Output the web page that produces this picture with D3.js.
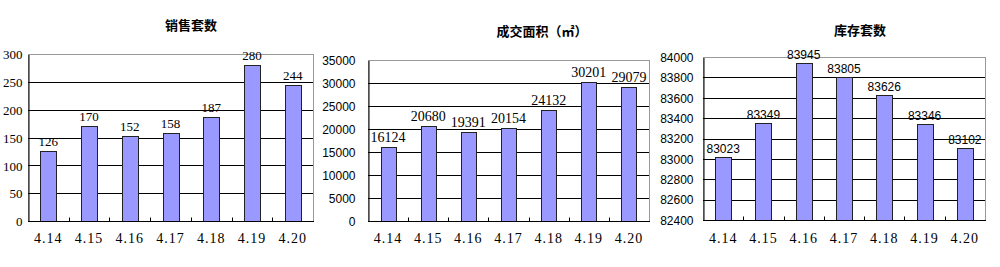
<!DOCTYPE html>
<html>
<head>
<meta charset="utf-8">
<script src="https://cdn.jsdelivr.net/npm/d3@7"></script>
<style>
  body { margin: 0; background: #fff; }
  svg { display: block; }
</style>
</head>
<body>
<div id="chart"></div>
<script>
  var w = 1000,
      h = 267;

  // data
  var dates = ["4.14", "4.15", "4.16", "4.17", "4.18", "4.19", "4.20"];
  var sales = [126, 170, 152, 158, 187, 280, 244];
  var area = [16124, 20680, 19391, 20154, 24132, 30201, 29079];
  var stock = [83023, 83349, 83945, 83805, 83626, 83346, 83102];

  var salesTicks = [0, 50, 100, 150, 200, 250, 300];
  var areaTicks = [0, 5000, 10000, 15000, 20000, 25000, 30000, 35000];
  var stockTicks = [82400, 82600, 82800, 83000, 83200, 83400, 83600, 83800, 84000];

  var serif = "'Liberation Serif', 'Noto Sans CJK SC', serif",
      sans = "'Liberation Sans', Arial, sans-serif",
      cjk = "'Noto Sans CJK SC', sans-serif";

  var svg = d3.select("#chart").append("svg")
      .attr("width", w)
      .attr("height", h);

  var charts = [
    {title: "销售套数", values: sales, ticks: salesTicks,
     left: 28, right: 313, top: 54, bottom: 221, titleX: 191, titleY: 30,
     tickFont: serif, tickSize: 13, pad: 6, labelFont: serif, labelSize: 13, barW: 16, gap: 5},
    {title: "成交面积（㎡）", values: area, ticks: areaTicks,
     left: 368, right: 649, top: 60, bottom: 221, titleX: 542, titleY: 36,
     tickFont: sans, tickSize: 12, pad: 13, labelFont: serif, labelSize: 14, barW: 15, gap: 5},
    {title: "库存套数", values: stock, ticks: stockTicks,
     left: 703, right: 985, top: 57, bottom: 220, titleX: 860, titleY: 35,
     tickFont: sans, tickSize: 12, pad: 10, labelFont: sans, labelSize: 12, barW: 16, gap: 4}
  ];

  charts.forEach(function(c) {
    var g = svg.append("g");

    var x = d3.scaleBand()
        .domain(dates)
        .range([c.left, c.right])
        .padding(0);

    var y = d3.scaleLinear()
        .domain([c.ticks[0], c.ticks[c.ticks.length - 1]])
        .range([c.bottom, c.top]);

    // title
    g.append("text")
        .attr("x", c.titleX)
        .attr("y", c.titleY)
        .attr("text-anchor", "middle")
        .style("font-family", cjk)
        .style("font-size", "13px")
        .style("font-weight", "bold")
        .text(c.title);

    // plot border (top / right grey)
    g.append("rect")
        .attr("x", c.left + 0.5)
        .attr("y", Math.round(c.top) + 0.5)
        .attr("width", c.right - c.left)
        .attr("height", c.bottom - c.top)
        .attr("fill", "#fff")
        .attr("stroke", "#999");

    // gridlines
    g.selectAll(".grid").data(c.ticks.slice(1, -1))
      .enter().append("line")
        .attr("x1", c.left)
        .attr("x2", c.right)
        .attr("y1", function(d) { return Math.round(y(d)) + 0.5; })
        .attr("y2", function(d) { return Math.round(y(d)) + 0.5; })
        .attr("stroke", "#000");

    // y axis
    var yAxis = d3.axisLeft(y)
        .tickValues(c.ticks)
        .tickSize(0)
        .tickPadding(c.pad)
        .tickFormat(d3.format("d"));
    var ya = g.append("g")
        .attr("transform", "translate(" + (c.left + 0.5) + ",0.5)")
        .call(yAxis);
    ya.select(".domain").attr("stroke", "#000");
    ya.selectAll("text")
        .style("font-family", c.tickFont)
        .style("font-size", c.tickSize + "px")
        .attr("fill", "#000");

    // bars
    g.selectAll(".bar").data(c.values)
      .enter().append("rect")
        .attr("x", function(d, i) { return Math.round(x(dates[i]) + x.bandwidth() / 2 - c.barW / 2) + 0.5; })
        .attr("y", function(d) { return Math.round(y(d)) + 0.5; })
        .attr("width", c.barW)
        .attr("height", function(d) { return Math.round(c.bottom) - Math.round(y(d)); })
        .attr("fill", "#9999ff")
        .attr("stroke", "#222");

    // value labels
    g.selectAll(".val").data(c.values)
      .enter().append("text")
        .attr("x", function(d, i) { return x(dates[i]) + x.bandwidth() / 2; })
        .attr("y", function(d) { return y(d) - c.gap; })
        .attr("text-anchor", "middle")
        .style("font-family", c.labelFont)
        .style("font-size", c.labelSize + "px")
        .text(function(d) { return d; });

    // x axis, ticks point up between the categories
    var xa = g.append("g")
        .attr("transform", "translate(0," + (Math.round(c.bottom) + 0.5) + ")");
    xa.append("line")
        .attr("x1", c.left)
        .attr("x2", c.right + 1)
        .attr("stroke", "#000");
    xa.selectAll(".tick").data(dates.slice(1))
      .enter().append("line")
        .attr("x1", function(d) { return Math.round(x(d)) + 0.5; })
        .attr("x2", function(d) { return Math.round(x(d)) + 0.5; })
        .attr("y1", 0)
        .attr("y2", -4)
        .attr("stroke", "#000");
    xa.selectAll(".lab").data(dates)
      .enter().append("text")
        .attr("x", function(d) { return x(d) + x.bandwidth() / 2; })
        .attr("y", 242 - Math.round(c.bottom))
        .attr("text-anchor", "middle")
        .style("font-family", serif)
        .style("font-size", "14px")
        .style("letter-spacing", "1px")
        .text(function(d) { return d; });
  });
</script>
</body>
</html>
